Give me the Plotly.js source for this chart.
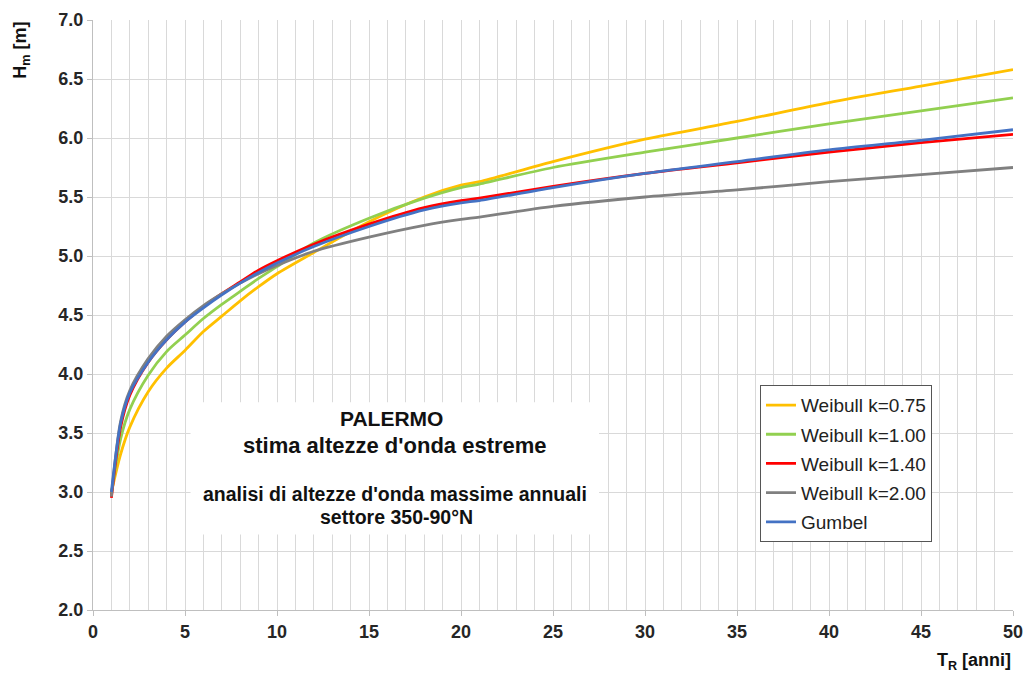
<!DOCTYPE html>
<html>
<head>
<meta charset="utf-8">
<script src="https://cdn.plot.ly/plotly-3.0.1.min.js"></script>
<style>html,body{margin:0;padding:0;background:#fff;}#chart{width:1027px;height:673px;}</style>
</head>
<body>
<div id="chart"></div>
<script>
const T = [1, 1.5, 2, 3, 4, 5, 6, 7, 8, 9, 10, 12, 15, 18, 20, 21, 25, 30, 35, 40, 45, 50];

const weibull075 = [3.00, 3.32, 3.55, 3.85, 4.05, 4.20, 4.36, 4.49, 4.62, 4.74, 4.85, 5.03, 5.29, 5.50, 5.60, 5.63, 5.80, 5.99, 6.14, 6.30, 6.44, 6.58];
const weibull100 = [2.98, 3.45, 3.70, 3.99, 4.19, 4.33, 4.47, 4.59, 4.70, 4.81, 4.91, 5.11, 5.32, 5.49, 5.58, 5.61, 5.75, 5.88, 6.00, 6.12, 6.23, 6.34];
const weibull140 = [2.95, 3.55, 3.82, 4.10, 4.29, 4.44, 4.57, 4.68, 4.78, 4.88, 4.96, 5.10, 5.27, 5.41, 5.47, 5.49, 5.59, 5.70, 5.79, 5.88, 5.96, 6.03];
const weibull200 = [2.96, 3.60, 3.86, 4.13, 4.32, 4.46, 4.58, 4.68, 4.77, 4.85, 4.92, 5.04, 5.16, 5.26, 5.31, 5.33, 5.42, 5.50, 5.56, 5.63, 5.69, 5.75];
const gumbel     = [3.00, 3.58, 3.84, 4.10, 4.29, 4.44, 4.56, 4.67, 4.77, 4.86, 4.94, 5.08, 5.25, 5.39, 5.45, 5.47, 5.58, 5.70, 5.80, 5.90, 5.98, 6.07];

const seriesNames = ['Weibull k=0.75', 'Weibull k=1.00', 'Weibull k=1.40', 'Weibull k=2.00', 'Gumbel'];
const seriesValues = [weibull075, weibull100, weibull140, weibull200, gumbel];
const seriesColors = ['#FFC000', '#92D050', '#FF0000', '#808080', '#4472C4'];

const xTicks = [0, 5, 10, 15, 20, 25, 30, 35, 40, 45, 50];
const yTicks = [2.0, 2.5, 3.0, 3.5, 4.0, 4.5, 5.0, 5.5, 6.0, 6.5, 7.0];

const traces = seriesValues.map((vals, i) => ({
  x: T, y: vals, type: 'scatter', mode: 'lines',
  name: seriesNames[i], legendgroup: 'g' + i,
  line: {color: seriesColors[i], width: 2.8, shape: 'spline', smoothing: 0.8},
  hoverinfo: 'x+y'
}));

const FAM = 'Liberation Sans, Arial, sans-serif';
const tickFont = {family: FAM, size: 18, color: '#262626', weight: 'bold'};
const textFont = (s) => ({family: FAM, size: s, color: '#111', weight: 'bold'});

const layout = {
  width: 1027, height: 673,
  margin: {l: 93, r: 14, t: 20, b: 63},
  paper_bgcolor: '#fff', plot_bgcolor: '#fff',
  showlegend: true,
  legend: {
    x: 0.725, y: 0.381, xanchor: 'left', yanchor: 'top',
    bgcolor: '#fff', bordercolor: '#555', borderwidth: 1,
    font: {family: FAM, size: 19, color: '#222'},
    traceorder: 'grouped', tracegroupgap: 1.5, itemwidth: 30
  },
  xaxis: {
    range: [0, 50], tickvals: xTicks, ticktext: xTicks.map(String),
    showgrid: true, gridcolor: '#d9d9d9', gridwidth: 1,
    minor: {dtick: 1, showgrid: true, gridcolor: '#d9d9d9', gridwidth: 1},
    showline: true, linecolor: '#bfbfbf', linewidth: 1,
    ticks: 'outside', ticklen: 5, tickcolor: '#bfbfbf',
    tickfont: tickFont, zeroline: false, fixedrange: true
  },
  yaxis: {
    range: [2, 7], tickvals: yTicks, ticktext: yTicks.map(v => v.toFixed(1)),
    showgrid: true, gridcolor: '#d9d9d9', gridwidth: 1,
    showline: true, linecolor: '#bfbfbf', linewidth: 1,
    ticks: 'outside', ticklen: 5, tickcolor: '#bfbfbf',
    tickfont: tickFont, zeroline: false, fixedrange: true
  },
  shapes: [{
    type: 'rect', xref: 'x', yref: 'y', x0: 5.3, x1: 27.5, y0: 2.64, y1: 3.76,
    fillcolor: '#fff', line: {width: 0}, layer: 'between'
  }],
  annotations: [
    {xref: 'paper', yref: 'paper', x: -0.078, y: 1.0, xanchor: 'center', yanchor: 'top',
     text: 'H<sub>m</sub> [m]', textangle: -90, showarrow: false, font: textFont(18)},
    {xref: 'paper', yref: 'paper', x: 1.0, y: -0.064, xanchor: 'right', yanchor: 'top',
     text: 'T<sub>R</sub> [anni]', showarrow: false, font: textFont(18)},
    {xref: 'x', yref: 'y', x: 16.2, y: 3.627, text: 'PALERMO', showarrow: false, font: textFont(21)},
    {xref: 'x', yref: 'y', x: 16.4, y: 3.39, text: "stima altezze d'onda estreme", showarrow: false, font: textFont(22)},
    {xref: 'x', yref: 'y', x: 16.4, y: 2.983, text: "analisi di altezze d'onda massime annuali", showarrow: false, font: textFont(19.5)},
    {xref: 'x', yref: 'y', x: 16.5, y: 2.79, text: 'settore 350-90°N', showarrow: false, font: textFont(19.5)}
  ]
};

Plotly.newPlot('chart', traces, layout, {displayModeBar: false, staticPlot: true});
</script>
</body>
</html>
